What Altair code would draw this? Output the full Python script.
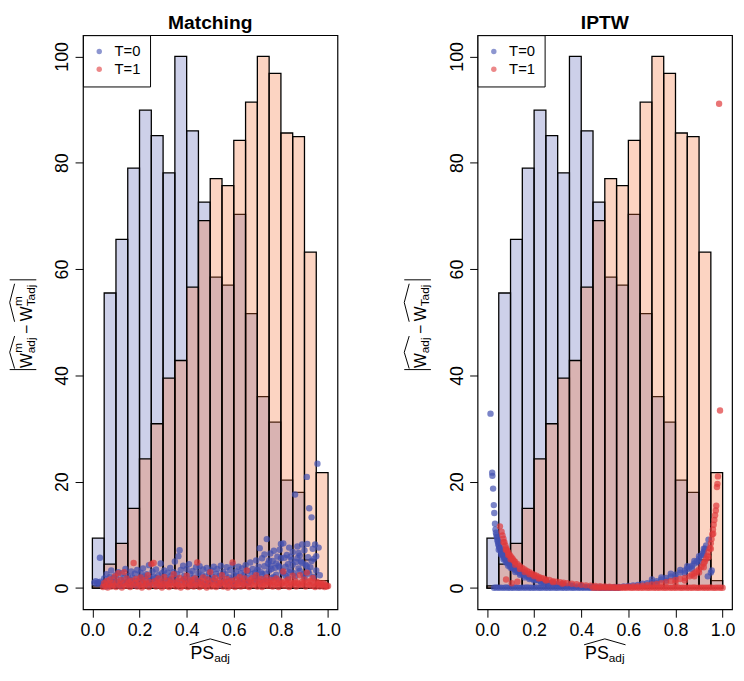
import altair as alt
import pandas as pd

FONT = "Liberation Sans"

# ---------------- data ----------------
BIN_START = [0.00, 0.05, 0.10, 0.15, 0.20, 0.25, 0.30, 0.35, 0.40, 0.45,
             0.50, 0.55, 0.60, 0.65, 0.70, 0.75, 0.80, 0.85, 0.90, 0.95]
BIN_END = [0.05, 0.10, 0.15, 0.20, 0.25, 0.30, 0.35, 0.40, 0.45, 0.50,
           0.55, 0.60, 0.65, 0.70, 0.75, 0.80, 0.85, 0.90, 0.95, 1.00]
HIST_T0 = [9.4, 55.5, 65.6, 79.0, 89.9, 85.1, 78.1, 100.0, 86.0, 72.6,
           58.5, 57.0, 70.3, 51.6, 36.0, 31.2, 20.3, 18.0, 5.3, 1.4]
HIST_T1 = [0.4, 4.5, 8.4, 15.0, 24.3, 30.9, 39.5, 42.8, 56.6, 69.1,
           77.0, 75.7, 84.2, 91.4, 100.0, 96.8, 85.6, 84.9, 63.2, 21.7]

X_TICKS = [0.0, 0.2, 0.4, 0.6, 0.8, 1.0]
Y_TICKS = [0, 20, 40, 60, 80, 100]
GROUPS = ["T=0", "T=1"]
TITLES = ["Matching", "IPTW"]

MATCH_T0 = [
    (0.008, 1.0), (0.014, 1.3), (0.019, 0.8), (0.024, 1.1), (0.029, 0.9), (0.034, 1.2), (0.032, 5.7),
    (0.045, 0.6), (0.05, 1.8), (0.055, 0.9), (0.06, 2.6), (0.065, 1.3), (0.07, 0.4), (0.075, 2.1),
    (0.08, 3.3), (0.085, 1.0), (0.09, 1.9), (0.095, 0.5), (0.10, 2.4), (0.105, 1.2), (0.11, 3.0),
    (0.115, 0.7), (0.12, 1.6), (0.125, 2.8), (0.13, 0.9), (0.135, 1.9), (0.14, 3.6), (0.145, 1.1),
    (0.15, 2.3), (0.155, 0.6), (0.16, 1.5), (0.165, 3.1), (0.17, 2.0), (0.175, 0.8), (0.18, 2.7),
    (0.185, 1.4), (0.19, 3.4), (0.195, 0.5), (0.20, 1.9), (0.205, 2.9), (0.21, 1.1), (0.215, 3.7),
    (0.22, 2.2), (0.225, 0.7), (0.23, 2.6), (0.235, 1.5), (0.24, 4.3), (0.245, 1.9), (0.25, 0.9),
    (0.255, 3.1), (0.26, 2.1), (0.265, 1.3), (0.27, 3.5), (0.275, 0.6), (0.28, 2.4), (0.285, 1.7),
    (0.29, 4.6), (0.295, 2.8), (0.30, 1.2), (0.305, 3.3), (0.31, 2.0), (0.315, 0.8), (0.32, 2.9),
    (0.325, 1.6), (0.33, 3.8), (0.335, 2.3), (0.34, 1.0), (0.345, 3.0), (0.35, 5.0), (0.355, 1.8),
    (0.36, 2.6), (0.365, 6.0), (0.37, 7.1), (0.375, 3.4), (0.38, 1.4), (0.385, 4.2), (0.39, 2.3),
    (0.395, 0.9), (0.40, 3.6), (0.405, 1.7), (0.41, 4.5), (0.415, 2.7), (0.42, 1.2), (0.425, 3.2),
    (0.43, 2.0), (0.435, 0.7), (0.44, 3.9), (0.445, 1.5), (0.45, 2.8), (0.455, 4.1), (0.46, 1.1),
    (0.465, 2.4), (0.47, 3.5), (0.475, 0.8), (0.48, 2.2), (0.485, 3.8), (0.49, 1.6), (0.495, 2.9),
    (0.50, 1.0), (0.505, 3.3), (0.51, 2.1), (0.515, 4.0), (0.52, 1.4), (0.525, 2.7), (0.53, 3.6),
    (0.535, 0.9), (0.54, 2.3), (0.545, 4.2), (0.55, 1.8), (0.555, 3.0), (0.56, 1.2), (0.565, 2.6),
    (0.57, 3.9), (0.575, 0.7), (0.58, 2.0), (0.585, 3.4), (0.59, 1.5), (0.595, 4.4), (0.60, 2.4),
    (0.605, 1.0), (0.61, 3.1), (0.615, 2.2), (0.62, 4.0), (0.625, 1.3), (0.63, 2.8), (0.635, 3.7),
    (0.64, 0.8), (0.645, 2.5), (0.65, 4.3), (0.655, 1.9), (0.66, 3.2), (0.665, 1.1), (0.67, 4.8),
    (0.675, 2.6), (0.68, 3.6), (0.685, 1.4), (0.69, 2.9), (0.695, 5.2), (0.70, 2.1), (0.705, 4.0),
    (0.71, 7.5), (0.715, 3.0), (0.72, 5.6), (0.725, 1.6), (0.73, 6.3), (0.735, 2.7), (0.74, 9.2),
    (0.745, 4.6), (0.75, 3.3), (0.755, 6.5), (0.76, 1.9), (0.765, 5.1), (0.77, 7.0), (0.775, 3.8),
    (0.78, 2.5), (0.785, 5.9), (0.79, 4.2), (0.795, 7.2), (0.80, 8.3), (0.805, 3.1), (0.81, 8.4),
    (0.815, 5.7), (0.82, 2.3), (0.825, 6.2), (0.83, 4.5), (0.835, 7.6), (0.84, 3.4), (0.845, 5.3),
    (0.85, 6.8), (0.855, 2.8), (0.86, 17.6), (0.865, 4.9), (0.87, 7.8), (0.875, 3.7), (0.88, 6.1),
    (0.885, 5.0), (0.89, 8.2), (0.895, 2.6), (0.90, 7.1), (0.905, 4.4), (0.91, 20.9), (0.912, 8.3),
    (0.915, 5.8), (0.92, 15.0), (0.925, 3.9), (0.93, 13.3), (0.935, 7.4), (0.94, 5.5), (0.945, 8.2),
    (0.95, 3.3), (0.955, 23.4), (0.96, 7.6), (0.965, 2.4),
    # extra density in the low band
    (0.06, 0.3), (0.09, 1.2), (0.12, 0.4), (0.15, 1.0), (0.18, 0.5), (0.21, 1.8), (0.24, 0.6),
    (0.27, 1.9), (0.30, 0.5), (0.33, 1.4), (0.36, 0.8), (0.39, 1.7), (0.42, 0.6), (0.45, 1.3),
    (0.48, 0.7), (0.51, 1.6), (0.54, 0.5), (0.57, 1.2), (0.60, 0.6), (0.63, 1.6), (0.66, 0.9),
    (0.69, 1.8), (0.70, 3.4), (0.71, 1.2), (0.72, 2.6), (0.73, 4.1), (0.74, 1.5), (0.75, 5.2),
    (0.76, 3.6), (0.77, 2.1), (0.78, 4.6), (0.79, 1.6), (0.80, 5.6), (0.81, 2.8), (0.82, 4.0),
    (0.83, 1.9), (0.84, 5.9), (0.85, 4.4), (0.86, 2.2), (0.87, 5.6), (0.88, 3.2), (0.89, 4.7),
    (0.90, 2.0), (0.91, 4.1), (0.92, 2.7), (0.93, 5.1), (0.94, 2.1), (0.95, 6.0), (0.755, 4.2),
    (0.795, 3.9), (0.835, 3.0), (0.875, 6.6), (0.915, 3.2),
]

MATCH_T1 = [
    (0.045, 0.2), (0.05, 0.9), (0.055, 0.4), (0.06, 1.3), (0.065, 0.1), (0.07, 0.7), (0.075, 1.6),
    (0.08, 0.3), (0.085, 1.0), (0.09, 0.5), (0.095, 2.2), (0.10, 0.2), (0.105, 1.2), (0.11, 2.8),
    (0.115, 0.6), (0.12, 1.5), (0.125, 0.1), (0.13, 0.9), (0.135, 3.0), (0.14, 0.4), (0.145, 1.8),
    (0.15, 0.7), (0.155, 1.1), (0.16, 0.2), (0.165, 1.4), (0.17, 0.5), (0.175, 4.7), (0.18, 0.9),
    (0.185, 1.7), (0.19, 0.3), (0.195, 1.2), (0.20, 0.6), (0.205, 2.0), (0.21, 0.1), (0.215, 1.0),
    (0.22, 0.4), (0.225, 1.5), (0.23, 0.8), (0.235, 2.4), (0.24, 0.2), (0.245, 1.1), (0.25, 4.5),
    (0.255, 0.6), (0.26, 4.7), (0.265, 1.3), (0.27, 0.3), (0.275, 0.9), (0.28, 1.8), (0.285, 0.5),
    (0.29, 1.2), (0.295, 0.1), (0.30, 0.8), (0.305, 2.1), (0.31, 0.4), (0.315, 1.4), (0.32, 0.7),
    (0.325, 0.2), (0.33, 1.0), (0.335, 1.7), (0.34, 0.5), (0.345, 2.6), (0.35, 0.9), (0.355, 0.3),
    (0.36, 1.3), (0.365, 0.6), (0.37, 1.9), (0.375, 0.1), (0.38, 1.1), (0.385, 0.4), (0.39, 1.6),
    (0.395, 0.8), (0.40, 2.3), (0.405, 0.2), (0.41, 1.2), (0.415, 0.5), (0.42, 1.5), (0.425, 0.9),
    (0.43, 0.3), (0.435, 1.8), (0.44, 0.6), (0.445, 4.8), (0.45, 1.0), (0.455, 0.2), (0.46, 1.4),
    (0.465, 0.7), (0.47, 2.0), (0.475, 0.4), (0.48, 1.1), (0.485, 0.1), (0.49, 1.6), (0.495, 0.8),
    (0.50, 3.0), (0.505, 0.3), (0.51, 1.3), (0.515, 0.6), (0.52, 1.9), (0.525, 0.2), (0.53, 1.0),
    (0.535, 0.5), (0.54, 1.5), (0.545, 0.9), (0.55, 2.4), (0.555, 0.3), (0.56, 1.2), (0.565, 0.7),
    (0.57, 1.7), (0.575, 0.1), (0.58, 1.1), (0.585, 0.4), (0.59, 1.4), (0.595, 4.8), (0.60, 0.8),
    (0.605, 0.2), (0.61, 1.6), (0.615, 0.6), (0.62, 1.0), (0.625, 2.1), (0.63, 0.3), (0.635, 1.3),
    (0.64, 0.7), (0.645, 1.8), (0.65, 0.4), (0.655, 3.3), (0.66, 1.1), (0.665, 0.2), (0.67, 1.5),
    (0.675, 0.8), (0.68, 1.9), (0.685, 0.5), (0.69, 1.2), (0.695, 2.4), (0.70, 0.3), (0.705, 1.4),
    (0.71, 0.7), (0.715, 1.7), (0.72, 0.2), (0.725, 1.0), (0.73, 0.6), (0.735, 1.3), (0.74, 2.0),
    (0.745, 0.4), (0.75, 1.1), (0.755, 0.8), (0.76, 1.5), (0.765, 0.3), (0.77, 1.2), (0.775, 0.6),
    (0.78, 1.8), (0.785, 0.9), (0.79, 0.2), (0.795, 1.4), (0.80, 0.7), (0.805, 1.0), (0.81, 3.1),
    (0.815, 0.4), (0.82, 1.3), (0.825, 0.8), (0.83, 1.6), (0.835, 0.2), (0.84, 1.1), (0.845, 0.6),
    (0.85, 2.3), (0.855, 0.9), (0.86, 1.4), (0.865, 0.3), (0.87, 1.0), (0.875, 0.7), (0.88, 2.4),
    (0.885, 0.5), (0.89, 1.2), (0.895, 0.8), (0.90, 1.6), (0.905, 0.3), (0.91, 2.9), (0.915, 1.1),
    (0.92, 0.6), (0.925, 1.4), (0.93, 0.4), (0.935, 1.9), (0.94, 0.9), (0.945, 0.2), (0.95, 1.2),
    (0.955, 0.6), (0.96, 1.0), (0.965, 0.3), (0.97, 0.8), (0.975, 0.5), (0.98, 0.9), (0.985, 0.2),
    (0.99, 0.6), (0.995, 0.3), (1.0, 0.4),
]

IPTW_T0 = [
    # flat run along zero
    (0.030, 0.05), (0.040, 0.10), (0.050, 0.04), (0.060, 0.08), (0.070, 0.03), (0.080, 0.09),
    (0.090, 0.05), (0.100, 0.07), (0.110, 0.04), (0.120, 0.10), (0.130, 0.06), (0.140, 0.03),
    (0.150, 0.08), (0.160, 0.05), (0.170, 0.09), (0.180, 0.04), (0.190, 0.07), (0.200, 0.05),
    (0.210, 0.10), (0.220, 0.03), (0.230, 0.06), (0.240, 0.08), (0.250, 0.04), (0.260, 0.07),
    (0.270, 0.05), (0.280, 0.09), (0.290, 0.03), (0.300, 0.06), (0.310, 0.08), (0.320, 0.04),
    (0.330, 0.07), (0.340, 0.05), (0.350, 0.10), (0.360, 0.03), (0.370, 0.06), (0.380, 0.08),
    (0.390, 0.04), (0.400, 0.07), (0.410, 0.05), (0.420, 0.09), (0.430, 0.03), (0.440, 0.06),
    (0.450, 0.08), (0.460, 0.04), (0.470, 0.07), (0.480, 0.05), (0.490, 0.03), (0.500, 0.06),
    (0.510, 0.04), (0.520, 0.05), (0.530, 0.03), (0.540, 0.04), (0.550, 0.02), (0.560, 0.03),
    # steep left branch
    (0.015, 32.8), (0.022, 21.7), (0.023, 21.1), (0.026, 18.7), (0.029, 15.6), (0.031, 14.1),
    (0.034, 12.1), (0.036, 11.0), (0.038, 10.4), (0.040, 10.0), (0.042, 9.6), (0.044, 9.1),
    (0.046, 8.7), (0.048, 8.3), (0.050, 8.0), (0.052, 7.7), (0.055, 7.4), (0.058, 7.0),
    (0.061, 6.7), (0.064, 6.4), (0.067, 6.2), (0.070, 5.9), (0.074, 5.6), (0.078, 5.4),
    (0.082, 5.2), (0.086, 4.9), (0.090, 4.7), (0.095, 4.4), (0.100, 4.2), (0.105, 3.9),
    (0.110, 3.8), (0.115, 3.6), (0.120, 3.4), (0.130, 3.1), (0.140, 2.8), (0.150, 2.6),
    (0.160, 2.4), (0.170, 2.2), (0.180, 2.0), (0.190, 1.8), (0.200, 1.7), (0.210, 1.5),
    (0.220, 1.4), (0.230, 1.2), (0.240, 1.1), (0.250, 1.0), (0.265, 0.9), (0.280, 0.8),
    (0.295, 0.7), (0.310, 0.6), (0.325, 0.5), (0.340, 0.4), (0.360, 0.35), (0.380, 0.3),
    (0.400, 0.25), (0.420, 0.2), (0.440, 0.2), (0.460, 0.15), (0.480, 0.1), (0.500, 0.1),
    (0.045, 9.5), (0.050, 8.7), (0.060, 7.5), (0.070, 6.6), (0.080, 5.9), (0.090, 5.3),
    (0.100, 4.8), (0.120, 3.9), (0.140, 3.3), (0.160, 2.8), (0.180, 2.4), (0.200, 2.0),
    (0.220, 1.7), (0.250, 1.3), (0.280, 1.0), (0.320, 0.7), (0.360, 0.5), (0.400, 0.4),
    (0.050, 7.2), (0.060, 6.3), (0.070, 5.4), (0.080, 4.8), (0.090, 4.2), (0.100, 3.8),
    (0.120, 3.0), (0.140, 2.5), (0.160, 2.0), (0.180, 1.7), (0.200, 1.4), (0.230, 1.0),
    (0.260, 0.8), (0.300, 0.5),
    # rising right branch
    (0.52, 0.1), (0.54, 0.15), (0.56, 0.2), (0.58, 0.3), (0.60, 0.4), (0.62, 0.5), (0.64, 0.6),
    (0.66, 0.8), (0.68, 0.9), (0.70, 1.1), (0.72, 1.3), (0.74, 1.6), (0.76, 1.9), (0.78, 2.2),
    (0.80, 2.5), (0.82, 2.9), (0.84, 3.3), (0.85, 3.6), (0.86, 3.9), (0.87, 4.2), (0.88, 4.6),
    (0.89, 5.0), (0.90, 5.5), (0.91, 6.1), (0.915, 6.5), (0.92, 6.9), (0.925, 7.4), (0.93, 8.0),
    (0.94, 9.1), (0.937, 2.2), (0.950, 2.9), (0.954, 3.3),
    (0.70, 1.6), (0.74, 2.0), (0.78, 2.7), (0.82, 3.4), (0.85, 4.1), (0.88, 5.1), (0.90, 6.0),
    (0.92, 7.4), (0.72, 0.9), (0.76, 1.4), (0.80, 2.0), (0.84, 2.8), (0.87, 3.6), (0.90, 4.8),
    (0.92, 6.2),
]

IPTW_T1 = [
    # flat run along zero
    (0.450, 0.05), (0.460, 0.08), (0.470, 0.03), (0.480, 0.06), (0.490, 0.09), (0.500, 0.04),
    (0.510, 0.07), (0.520, 0.05), (0.530, 0.10), (0.540, 0.03), (0.550, 0.06), (0.560, 0.08),
    (0.570, 0.04), (0.580, 0.07), (0.590, 0.05), (0.600, 0.09), (0.610, 0.03), (0.620, 0.06),
    (0.630, 0.08), (0.640, 0.04), (0.650, 0.07), (0.660, 0.05), (0.670, 0.10), (0.680, 0.03),
    (0.690, 0.06), (0.700, 0.08), (0.710, 0.04), (0.720, 0.07), (0.730, 0.05), (0.740, 0.09),
    (0.750, 0.03), (0.760, 0.06), (0.770, 0.08), (0.780, 0.04), (0.790, 0.07), (0.800, 0.05),
    (0.810, 0.10), (0.820, 0.03), (0.830, 0.06), (0.840, 0.08), (0.850, 0.04), (0.860, 0.07),
    (0.870, 0.05), (0.880, 0.09), (0.890, 0.03), (0.900, 0.06), (0.910, 0.08), (0.920, 0.04),
    (0.930, 0.07), (0.940, 0.05), (0.950, 0.10), (0.960, 0.03), (0.970, 0.06), (0.980, 0.08),
    (0.990, 0.04), (1.000, 0.06),
    # left branch
    (0.055, 11.6), (0.062, 10.6), (0.066, 9.9), (0.070, 9.3), (0.074, 8.6), (0.078, 8.0),
    (0.082, 7.5), (0.086, 7.1), (0.090, 6.7), (0.095, 6.3), (0.100, 6.0), (0.105, 5.7),
    (0.110, 5.4), (0.115, 5.1), (0.120, 4.9), (0.130, 4.5), (0.140, 4.1), (0.150, 3.8),
    (0.160, 3.5), (0.170, 3.2), (0.180, 3.0), (0.190, 2.7), (0.200, 2.5), (0.210, 2.3),
    (0.220, 2.1), (0.230, 1.9), (0.240, 1.8), (0.250, 1.6), (0.265, 1.5), (0.280, 1.3),
    (0.295, 1.2), (0.310, 1.1), (0.325, 1.0), (0.340, 0.9), (0.360, 0.8), (0.380, 0.7),
    (0.400, 0.6), (0.420, 0.5), (0.440, 0.45), (0.460, 0.4), (0.480, 0.35), (0.500, 0.3),
    (0.520, 0.25), (0.540, 0.2), (0.560, 0.15),
    (0.070, 8.6), (0.080, 7.2), (0.090, 6.2), (0.100, 5.4), (0.120, 4.4), (0.140, 3.6),
    (0.160, 3.0), (0.180, 2.6), (0.200, 2.2), (0.220, 1.8), (0.250, 1.4), (0.280, 1.1),
    (0.320, 0.8), (0.081, 1.6), (0.129, 1.2), (0.105, 0.9),
    # right branch
    (0.58, 0.2), (0.60, 0.25), (0.62, 0.3), (0.64, 0.35), (0.66, 0.45), (0.68, 0.55), (0.70, 0.65),
    (0.72, 0.75), (0.74, 0.9), (0.76, 1.1), (0.78, 1.3), (0.80, 1.5), (0.82, 1.7), (0.84, 1.9),
    (0.86, 2.2), (0.87, 2.5), (0.88, 2.8), (0.89, 3.1), (0.90, 3.5), (0.91, 4.0), (0.92, 4.6),
    (0.925, 5.0), (0.93, 5.5), (0.935, 6.1), (0.94, 6.8), (0.945, 7.5), (0.95, 8.4), (0.953, 9.2),
    (0.956, 10.1), (0.959, 11.0), (0.962, 11.9), (0.965, 12.8), (0.968, 13.7), (0.971, 14.6),
    (0.973, 15.5), (0.976, 19.0), (0.978, 19.6), (0.980, 21.0), (0.989, 33.4), (0.985, 91.1),
    (0.80, 1.0), (0.84, 1.4), (0.88, 2.2), (0.90, 2.9), (0.92, 3.9), (0.94, 5.8), (0.95, 7.4),
    (0.96, 10.2),
]

# ---------------- styling ----------------
BAR_FILL = {"T=0": "#5862b6", "T=1": "#f57034"}
PT_COLORS = ["#4150b0", "#e0393a"]
W, H = 258, 582

hist = pd.DataFrame({
    "x0": BIN_START + BIN_START,
    "x1": BIN_END + BIN_END,
    "count": HIST_T0 + HIST_T1,
    "base": [0] * 40,
    "grp": ["T=0"] * 20 + ["T=1"] * 20,
})
one = pd.DataFrame({"k": [0]})


def txt(s, x, y, size, angle=0, align="left", weight="normal"):
    return alt.Chart(one).mark_text(
        text=s, fontSize=size, angle=angle, align=align, baseline="alphabetic",
        font=FONT, fontWeight=weight, color="black"
    ).encode(x=alt.value(x), y=alt.value(y))


def seg(x1, y1, x2, y2):
    return alt.Chart(one).mark_rule(color="black", strokeWidth=1).encode(
        x=alt.value(x1), y=alt.value(y1), x2=alt.value(x2), y2=alt.value(y2))


def y_label(with_m):
    L = []
    wb, sb, pb = -51.8, -48.8, -61.8
    L += [seg(-74.3, 339, -47.3, 339), seg(-74.3, 248, -47.3, 248)]
    # hats
    L += [seg(-69.3, 338, -74.3, 321.5), seg(-74.3, 321.5, -69.3, 305),
          seg(-69.3, 290.5, -74.3, 271), seg(-74.3, 271, -69.3, 252)]
    L.append(txt("W", wb, 337.5, 16, angle=270))
    L.append(txt("adj", sb, 322.4, 12, angle=270))
    L.append(txt("\u2212", wb, 303, 16, angle=270))
    L.append(txt("W", wb, 290, 16, angle=270))
    L.append(txt("Tadj", sb, 274.9, 12, angle=270))
    if with_m:
        L.append(txt("m", pb, 322, 12, angle=270))
        L.append(txt("m", pb, 274.5, 12, angle=270))
    return L


def x_label():
    return [seg(108, 618, 129, 612), seg(129, 612, 150, 618),
            txt("PS", 109, 632, 18), txt("adj", 133, 635.5, 12)]


def panel(title, pts0, pts1, with_m):
    pts = pd.DataFrame(
        [{"ps": a, "w": b, "grp": "T=0"} for a, b in pts0]
        + [{"ps": a, "w": b, "grp": "T=1"} for a, b in pts1])
    xs = alt.Scale(domain=[-0.04, 1.04], nice=False, zero=False)
    ys = alt.Scale(domain=[-4, 104], nice=False, zero=False)
    xaxis = alt.Axis(values=X_TICKS, format=".1f", title=None, grid=False, domain=False,
                     tickSize=8, tickColor="black", tickWidth=1, labelFontSize=18,
                     labelFont=FONT, labelColor="black", labelPadding=5,
                     labelFlush=False, labelOverlap=False)
    yaxis = alt.Axis(values=Y_TICKS, title=None, grid=False, domain=False,
                     tickSize=8, tickColor="black", tickWidth=1, labelAngle=270,
                     labelAlign="center", labelBaseline="bottom", labelFontSize=18,
                     labelFont=FONT, labelColor="black", labelPadding=3.5,
                     labelOverlap=False)
    layers = []
    for g in GROUPS:
        layers.append(
            alt.Chart(hist).transform_filter(alt.datum.grp == g).mark_rect(
                fill=BAR_FILL[g], fillOpacity=0.3, stroke="black", strokeWidth=1.3
            ).encode(
                x=alt.X("x0:Q", scale=xs, axis=xaxis), x2="x1",
                y=alt.Y("count:Q", scale=ys, axis=yaxis), y2="base"))
    layers.append(
        alt.Chart(pts).mark_circle(size=42, opacity=0.7).encode(
            x=alt.X("ps:Q", scale=xs, axis=xaxis),
            y=alt.Y("w:Q", scale=ys, axis=yaxis),
            color=alt.Color("grp:N", scale=alt.Scale(domain=GROUPS, range=PT_COLORS),
                            legend=alt.Legend(
                                title=None, orient="none", legendX=0, legendY=0,
                                strokeColor="black", fillColor="white", padding=9,
                                labelFontSize=15, labelFont=FONT, labelColor="black",
                                symbolType="circle", symbolSize=30, symbolOpacity=0.6,
                                symbolStrokeWidth=0, labelOffset=8, rowPadding=2,
                                cornerRadius=0))))
    layers.append(txt(title, W / 2, -6, 19.5, align="center", weight="bold"))
    layers += y_label(with_m)
    layers += x_label()
    return alt.layer(*layers).properties(width=W, height=H)


left = panel(TITLES[0], MATCH_T0, MATCH_T1, True)
right = panel(TITLES[1], IPTW_T0, IPTW_T1, False)

chart = alt.hconcat(left, right, spacing=142, bounds="flush").resolve_scale(
    color="independent").resolve_legend(color="independent").properties(
    padding={"left": 0, "top": 0, "right": 0, "bottom": 0}, background="white"
).configure_view(stroke="black", strokeWidth=1.2)

chart.save("out.html", embed_options={"renderer": "svg", "actions": False})
